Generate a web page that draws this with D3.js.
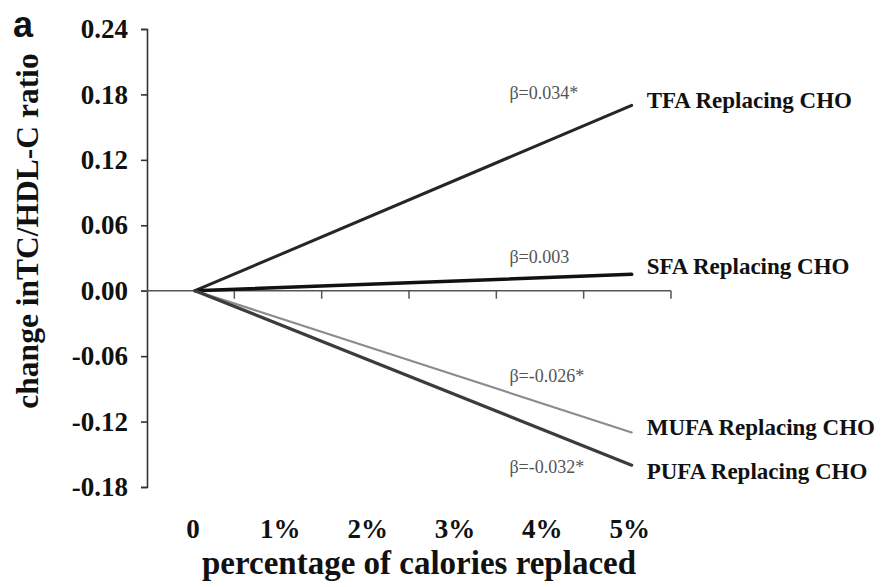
<!DOCTYPE html>
<html>
<head>
<meta charset="utf-8">
<script src="https://cdn.jsdelivr.net/npm/d3@7"></script>
<style>
  html, body { margin: 0; padding: 0; background: #fff; }
  svg { display: block; }
</style>
</head>
<body>
<svg id="chart" width="889" height="587"></svg>
<script>
// ---- data ----
const seriesNames = ["TFA Replacing CHO", "SFA Replacing CHO", "MUFA Replacing CHO", "PUFA Replacing CHO"];
const betaLabels = ["β=0.034*", "β=0.003", "β=-0.026*", "β=-0.032*"];
const startValues = [0, 0, 0, 0];          // change at 0% replaced
const endValues = [0.17, 0.015, -0.13, -0.16]; // change at 5% replaced
const xStart = 0, xEnd = 5;
const yTickValues = [-0.18, -0.12, -0.06, 0, 0.06, 0.12, 0.18, 0.24];
const xTickValues = [0, 1, 2, 3, 4, 5];
const xTickLabels = ["0", "1%", "2%", "3%", "4%", "5%"];
const innerTickValues = [0.45, 1.45, 2.45, 3.45, 4.45, 5.45];

// ---- layout ----
const svg = d3.select("#chart");
const serif = "'Liberation Serif', 'Times New Roman', serif";
const x = d3.scaleLinear().domain([-0.55, 5.45]).range([147, 671]);
const y = d3.scaleLinear().domain([-0.18, 0.24]).range([487, 29]);

// y axis
const yAxis = d3.axisLeft(y)
  .tickValues(yTickValues)
  .tickSize(6)
  .tickPadding(13)
  .tickFormat(d => d.toFixed(2));
const gy = svg.append("g").attr("transform", `translate(${x(-0.55)},0)`).call(yAxis);
gy.selectAll("path, line").attr("stroke", "#333").attr("stroke-width", 1.6);
gy.selectAll("text")
  .attr("font-family", serif).attr("font-weight", "bold")
  .attr("font-size", 27).attr("fill", "#111");

// zero line with inner ticks
svg.append("line")
  .attr("x1", x(-0.55) - 6).attr("x2", x(innerTickValues[innerTickValues.length - 1]))
  .attr("y1", y(0)).attr("y2", y(0))
  .attr("stroke", "#555").attr("stroke-width", 1.5);
svg.selectAll(".itick").data(innerTickValues).enter().append("line")
  .attr("x1", d => x(d)).attr("x2", d => x(d))
  .attr("y1", y(0)).attr("y2", y(0) + 8)
  .attr("stroke", "#555").attr("stroke-width", 1.5);

// x tick labels
svg.selectAll(".xlab").data(xTickValues).enter().append("text")
  .attr("x", d => x(d) - 2).attr("y", 538)
  .attr("text-anchor", "middle")
  .attr("font-family", serif).attr("font-weight", "bold")
  .attr("font-size", 27).attr("fill", "#111")
  .text((d, i) => xTickLabels[i]);

// axis titles
svg.append("text")
  .attr("x", 419).attr("y", 574).attr("text-anchor", "middle")
  .attr("font-family", serif).attr("font-weight", "bold")
  .attr("font-size", 33).attr("fill", "#111")
  .text("percentage of calories replaced");
svg.append("text")
  .attr("transform", "translate(38,231) rotate(-90)")
  .attr("text-anchor", "middle")
  .attr("font-family", serif).attr("font-weight", "bold")
  .attr("font-size", 31.5).attr("fill", "#111")
  .text("change inTC/HDL-C ratio");
svg.append("text")
  .attr("x", 13).attr("y", 37)
  .attr("font-family", "'Liberation Sans', Arial, sans-serif").attr("font-weight", "bold")
  .attr("font-size", 36).attr("fill", "#111")
  .text("a");

// lines
const lineStyles = [
  { stroke: "#262626", width: 3 },
  { stroke: "#111", width: 3.5 },
  { stroke: "#8c8c8c", width: 2.2 },
  { stroke: "#3c3c3c", width: 3.2 }
];
const labelDy = [3, 0, 3, 14];
const betaDy = [-6, -11, -50, 8];
const line = d3.line().x(d => x(d[0])).y(d => y(d[1]));
seriesNames.forEach((name, i) => {
  const pts = [[xStart, startValues[i]], [xEnd, endValues[i]]];
  svg.append("path").attr("d", line(pts))
    .attr("fill", "none")
    .attr("stroke", lineStyles[i].stroke)
    .attr("stroke-width", lineStyles[i].width)
    .attr("stroke-linecap", "round");
  svg.append("text")
    .attr("x", x(xEnd) + 15).attr("y", y(endValues[i]) + labelDy[i])
    .attr("font-family", serif).attr("font-weight", "bold")
    .attr("font-size", 23).attr("fill", "#111")
    .text(name);
  // beta annotation, placed relative to the line end
  svg.append("text")
    .attr("x", x(3.6)).attr("y", y(endValues[i]) + betaDy[i])
    .attr("font-family", serif)
    .attr("font-size", 18).attr("fill", "#555")
    .text(betaLabels[i]);
});
</script>
</body>
</html>
